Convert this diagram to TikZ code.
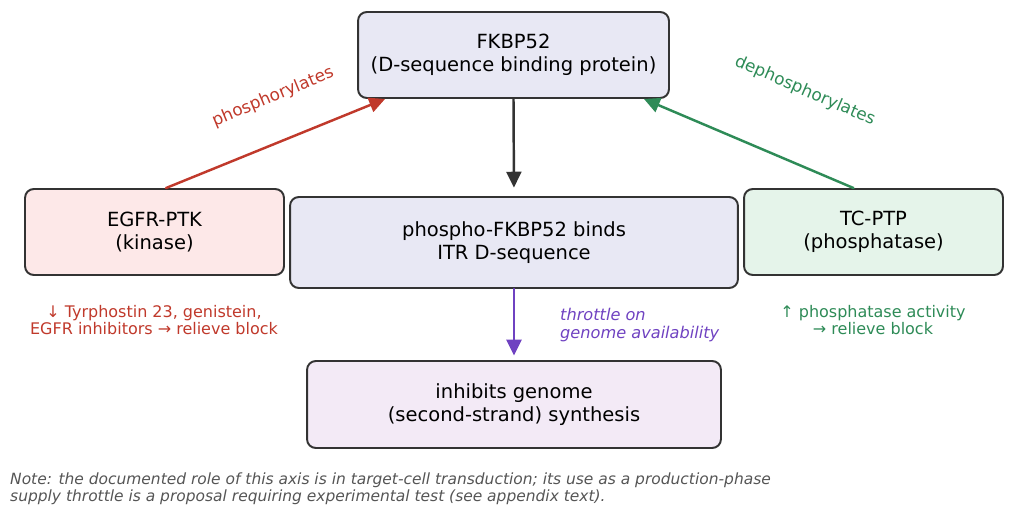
\documentclass[tikz,border=0pt]{standalone}
\usepackage{fontspec}
\setmainfont{DejaVu Sans}
\usetikzlibrary{arrows.meta}
\definecolor{edgegray}{HTML}{333333}
\definecolor{lav}{HTML}{E8E8F4}
\definecolor{pinkfill}{HTML}{FDE8E8}
\definecolor{greenfill}{HTML}{E5F4EA}
\definecolor{purplefill}{HTML}{F3EAF6}
\definecolor{redtxt}{HTML}{C0392B}
\definecolor{greentxt}{HTML}{2E8B57}
\definecolor{purpletxt}{HTML}{6F42C1}
\definecolor{notegray}{HTML}{555555}
\begin{document}
\begin{tikzpicture}[x=0.02cm, y=-0.02cm, line join=round, line cap=round,
	box/.style={draw=edgegray, line width=1.1pt, rounded corners=5pt, align=center,
		font=\fontsize{11.1}{12.8}\selectfont, inner sep=0pt},
	arr/.style={-{Triangle[length=9pt,width=8.5pt]}, line width=1.4pt},
	small/.style={font=\fontsize{9.1}{9.8}\selectfont, align=center}]
	\useasboundingbox (0,0) rectangle (1014,514);
	% boxes
	\node[box, fill=lav, minimum width=6.22cm, minimum height=1.72cm] (fkbp) at (513.5,55) {FKBP52\\(D-sequence binding protein)};
	\node[box, fill=pinkfill, minimum width=5.18cm, minimum height=1.72cm] (egfr) at (154.5,232) {EGFR-PTK\\(kinase)};
	\node[box, fill=lav, minimum width=8.96cm, minimum height=1.82cm] (bind) at (514,242.5) {phospho-FKBP52 binds\\ITR D-sequence};
	\node[box, fill=greenfill, minimum width=5.18cm, minimum height=1.72cm] (tcptp) at (873.5,232) {TC-PTP\\(phosphatase)};
	\node[box, fill=purplefill, minimum width=8.28cm, minimum height=1.74cm] (inhib) at (514,404.5) {inhibits genome\\(second-strand) synthesis};
	% arrows
	\draw[arr, edgegray, shorten >=0.17cm] (fkbp.south) -- (bind.north);
	\draw[arr, redtxt] ([xshift=0.23cm]egfr.north) -- ([xshift=0.56cm]fkbp.south west);
	\draw[arr, greentxt] ([xshift=-0.4cm]tcptp.north) -- ([xshift=-0.52cm]fkbp.south east);
	\draw[arr, purpletxt, shorten >=0.09cm] (bind.south) -- (inhib.north);
	% labels
	\node[small, text=redtxt, rotate=22.5, font=\fontsize{9.6}{10}\selectfont] (phos) at (273,97) {phosphorylates};
	\node[small, text=greentxt, rotate=-23.4, font=\fontsize{9.6}{10}\selectfont] (dephos) at (805,91) {dephosphorylates};
	\node[small, text=redtxt] (egfrnote) at (154,320) {↓ Tyrphostin 23, genistein,\\EGFR inhibitors → relieve block};
	\node[small, text=greentxt] (tcnote) at (873,320) {↑ phosphatase activity\\→ relieve block};
	\node[small, text=purpletxt, align=left, anchor=west, font=\fontsize{9.2}{9.8}\selectfont\itshape] (throttle) at (554,325) {throttle on\\genome availability};
	\node[small, text=notegray, align=left, anchor=west, font=\fontsize{8.8}{9.8}\selectfont\itshape] (note) at (4,488.5) {Note: the documented role of this axis is in target-cell transduction; its use as a production-phase\\supply throttle is a proposal requiring experimental test (see appendix text).};
\end{tikzpicture}
\end{document}
